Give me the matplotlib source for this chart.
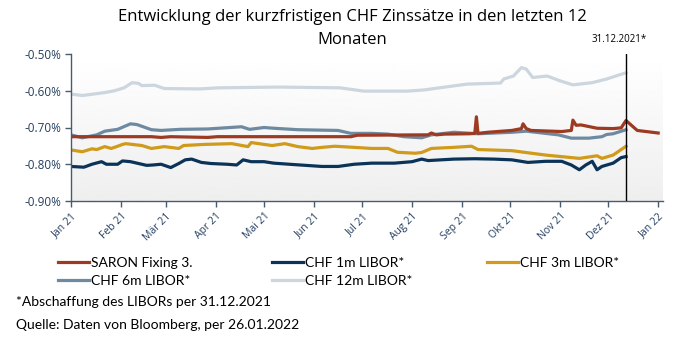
import matplotlib
matplotlib.use("Agg")
import matplotlib.pyplot as plt
import numpy as np
import pandas as pd

# data (values in %)
saron_dates = ["2021-01-01", "2021-02-20", "2021-02-26", "2021-03-04", "2021-03-27", "2021-04-02",
               "2021-06-24", "2021-06-28", "2021-08-11", "2021-08-13", "2021-08-16", "2021-08-21",
               "2021-09-06", "2021-09-09", "2021-09-10", "2021-09-11", "2021-09-17", "2021-10-02",
               "2021-10-08", "2021-10-09", "2021-10-11", "2021-10-14", "2021-11-02", "2021-11-08",
               "2021-11-09", "2021-11-11", "2021-11-14", "2021-11-24", "2021-12-04", "2021-12-09",
               "2021-12-12", "2021-12-19", "2022-01-01"]
saron = [-0.725, -0.725, -0.727, -0.725, -0.727, -0.725,
         -0.725, -0.721, -0.720, -0.715, -0.720, -0.718,
         -0.717, -0.716, -0.671, -0.716, -0.713, -0.708,
         -0.703, -0.690, -0.703, -0.708, -0.711, -0.708,
         -0.680, -0.694, -0.693, -0.702, -0.703, -0.701,
         -0.681, -0.708, -0.715]

libor_1m_dates = ["2021-01-01", "2021-01-09", "2021-01-14", "2021-01-20", "2021-01-23", "2021-01-30",
                  "2021-02-02", "2021-02-07", "2021-02-14", "2021-02-17", "2021-02-21", "2021-02-26",
                  "2021-03-04", "2021-03-09", "2021-03-13", "2021-03-17", "2021-03-23", "2021-03-29",
                  "2021-04-08", "2021-04-14", "2021-04-18", "2021-04-23", "2021-05-01", "2021-05-07",
                  "2021-05-20", "2021-06-06", "2021-06-16", "2021-06-26", "2021-07-07", "2021-07-21",
                  "2021-08-01", "2021-08-07", "2021-08-11", "2021-08-19", "2021-08-27", "2021-09-09",
                  "2021-09-21", "2021-10-02", "2021-10-12", "2021-10-23", "2021-11-02", "2021-11-08",
                  "2021-11-13", "2021-11-17", "2021-11-21", "2021-11-24", "2021-11-27", "2021-12-04",
                  "2021-12-09", "2021-12-12"]
libor_1m = [-0.806, -0.808, -0.800, -0.793, -0.800, -0.800,
            -0.791, -0.793, -0.800, -0.803, -0.802, -0.800,
            -0.809, -0.798, -0.788, -0.786, -0.795, -0.798,
            -0.800, -0.802, -0.788, -0.793, -0.793, -0.797,
            -0.801, -0.806, -0.806, -0.800, -0.797, -0.797,
            -0.793, -0.786, -0.790, -0.788, -0.786, -0.785,
            -0.786, -0.788, -0.795, -0.792, -0.792, -0.802,
            -0.815, -0.802, -0.792, -0.815, -0.806, -0.797,
            -0.782, -0.779]

libor_3m_dates = ["2021-01-01", "2021-01-08", "2021-01-14", "2021-01-17", "2021-01-22", "2021-01-26",
                  "2021-01-30", "2021-02-02", "2021-02-04", "2021-02-14", "2021-02-20", "2021-02-28",
                  "2021-03-09", "2021-03-12", "2021-03-25", "2021-04-11", "2021-04-21", "2021-04-23",
                  "2021-05-01", "2021-05-06", "2021-05-14", "2021-05-22", "2021-05-31", "2021-06-06",
                  "2021-06-14", "2021-06-26", "2021-07-07", "2021-07-17", "2021-07-23", "2021-08-03",
                  "2021-08-07", "2021-08-13", "2021-08-27", "2021-09-07", "2021-09-11", "2021-10-02",
                  "2021-10-23", "2021-11-13", "2021-11-24", "2021-11-27", "2021-12-04", "2021-12-12"]
libor_3m = [-0.761, -0.766, -0.758, -0.760, -0.752, -0.757,
            -0.751, -0.746, -0.744, -0.749, -0.757, -0.752,
            -0.757, -0.749, -0.746, -0.744, -0.752, -0.741,
            -0.746, -0.749, -0.744, -0.752, -0.757, -0.754,
            -0.751, -0.754, -0.757, -0.757, -0.7675, -0.770,
            -0.768, -0.757, -0.754, -0.751, -0.760, -0.763,
            -0.775, -0.784, -0.777, -0.784, -0.775, -0.751]

libor_6m_dates = ["2021-01-01", "2021-01-08", "2021-01-17", "2021-01-22", "2021-01-30", "2021-02-07",
                  "2021-02-11", "2021-02-20", "2021-02-26", "2021-03-10", "2021-03-27", "2021-04-17",
                  "2021-04-22", "2021-05-01", "2021-05-07", "2021-05-22", "2021-06-16", "2021-06-24",
                  "2021-07-07", "2021-07-17", "2021-07-27", "2021-08-07", "2021-08-13", "2021-08-19",
                  "2021-08-27", "2021-09-11", "2021-10-02", "2021-10-11", "2021-10-23", "2021-10-31",
                  "2021-11-08", "2021-11-19", "2021-11-27", "2021-11-30", "2021-12-04", "2021-12-12"]
libor_6m = [-0.720, -0.728, -0.720, -0.710, -0.705, -0.690,
            -0.692, -0.706, -0.708, -0.705, -0.704, -0.698,
            -0.705, -0.700, -0.702, -0.706, -0.708, -0.716,
            -0.716, -0.718, -0.725, -0.728, -0.720, -0.717,
            -0.713, -0.717, -0.713, -0.710, -0.716, -0.720,
            -0.729, -0.729, -0.725, -0.719, -0.717, -0.706]

libor_12m_dates = ["2021-01-01", "2021-01-08", "2021-01-22", "2021-01-28", "2021-02-03", "2021-02-08",
                   "2021-02-12", "2021-02-14", "2021-02-22", "2021-02-28", "2021-03-22", "2021-04-03",
                   "2021-05-10", "2021-06-17", "2021-07-02", "2021-07-29", "2021-08-08", "2021-09-04",
                   "2021-09-25", "2021-09-27", "2021-10-03", "2021-10-08", "2021-10-11", "2021-10-15",
                   "2021-10-24", "2021-11-01", "2021-11-09", "2021-11-21", "2021-11-30", "2021-12-12"]
libor_12m = [-0.609, -0.613, -0.605, -0.600, -0.592, -0.578,
             -0.580, -0.586, -0.585, -0.594, -0.595, -0.592,
             -0.590, -0.592, -0.601, -0.601, -0.598, -0.582,
             -0.579, -0.568, -0.560, -0.537, -0.541, -0.564,
             -0.560, -0.573, -0.584, -0.578, -0.568, -0.551]

series = [
    ("SARON Fixing 3.", saron_dates, saron, "#9c3a22"),
    ("CHF 1m LIBOR*", libor_1m_dates, libor_1m, "#0b3358"),
    ("CHF 3m LIBOR*", libor_3m_dates, libor_3m, "#d09a1b"),
    ("CHF 6m LIBOR*", libor_6m_dates, libor_6m, "#6e8aa1"),
    ("CHF 12m LIBOR*", libor_12m_dates, libor_12m, "#ccd6df"),
]
month_labels = ["Jan 21", "Feb 21", "Mär 21", "Apr 21", "Mai 21", "Jun 21", "Jul 21",
                "Aug 21", "Sep 21", "Okt 21", "Nov 21", "Dez 21", "Jan 22"]
y_ticks = [-0.90, -0.80, -0.70, -0.60, -0.50]
cutoff_date = "2021-12-12"

txt_col = "#243f60"
fig = plt.figure(figsize=(6.77, 3.40), dpi=100)
ax = fig.add_axes([71 / 677, 1 - 201 / 340, 592 / 677, 147 / 340])

# gradient background of the plot area
grad = np.linspace(1.0, 0.935, 100).reshape(-1, 1)
ax.imshow(grad, cmap="gray", vmin=0, vmax=1, aspect="auto",
          extent=[0, 1, 0, 1], transform=ax.transAxes, zorder=0)

# light lines first, saron on top
handles = {}
for i in [4, 3, 2, 1, 0]:
    name, d, v, c = series[i]
    ln, = ax.plot(pd.to_datetime(d), v, color=c, lw=2.3, solid_joinstyle="round", zorder=2 + (4 - i) * 0.1)
    handles[i] = ln

ax.axvline(pd.Timestamp(cutoff_date), color="black", lw=1.0, zorder=4)
ax.text(pd.Timestamp(cutoff_date) - pd.Timedelta(days=4), 1.06, "31.12.2021*",
        transform=ax.get_xaxis_transform(), ha="center", va="bottom", fontsize=7,
        family="Open Sans", color="black")

ax.set_xlim(pd.Timestamp("2021-01-01"), pd.Timestamp("2022-01-04"))
ax.set_ylim(-0.90, -0.50)
month_ticks = pd.date_range("2021-01-01", "2022-01-01", freq="MS")
ax.set_xticks(month_ticks)
ax.set_xticklabels(month_labels, rotation=45, ha="right", rotation_mode="anchor",
                   fontsize=7.5, family="Open Sans", color=txt_col)
ax.set_yticks(y_ticks)
ax.set_yticklabels([f"{t:.2f}%" for t in y_ticks], fontsize=8.5, family="Open Sans", color=txt_col)
ax.tick_params(axis="both", direction="out", length=4, width=1, color="#4a5b6d", pad=3)
for s in ["top", "right"]:
    ax.spines[s].set_visible(False)
for s in ["left", "bottom"]:
    ax.spines[s].set_color("#4a5b6d")
    ax.spines[s].set_linewidth(1.0)

fig.text(352 / 677, 1 - 9 / 340, "Entwicklung der kurzfristigen CHF Zinssätze in den letzten 12\nMonaten",
         ha="center", va="top", fontsize=12, family="Open Sans", color="black", linespacing=1.55)

# legend in three columns
columns = [([0, 3], 58), ([1, 4], 272), ([2], 487)]
for idx, x0 in columns:
    fig.legend([handles[i] for i in idx], [series[i][0] for i in idx],
               loc="upper left", bbox_to_anchor=(x0 / 677, 1 - 257 / 340), frameon=False,
               prop={"family": "Lato", "size": 10}, handlelength=2.2, handletextpad=0.15,
               borderpad=0, borderaxespad=0, labelspacing=0.45)

fig.text(16 / 677, 1 - 302 / 340, "*Abschaffung des LIBORs per 31.12.2021", ha="left", va="center",
         fontsize=10, family="Lato", color="black")
fig.text(16 / 677, 1 - 325 / 340, "Quelle: Daten von Bloomberg, per 26.01.2022", ha="left", va="center",
         fontsize=10, family="Lato", color="black")

fig.savefig("out.png", dpi=100)
